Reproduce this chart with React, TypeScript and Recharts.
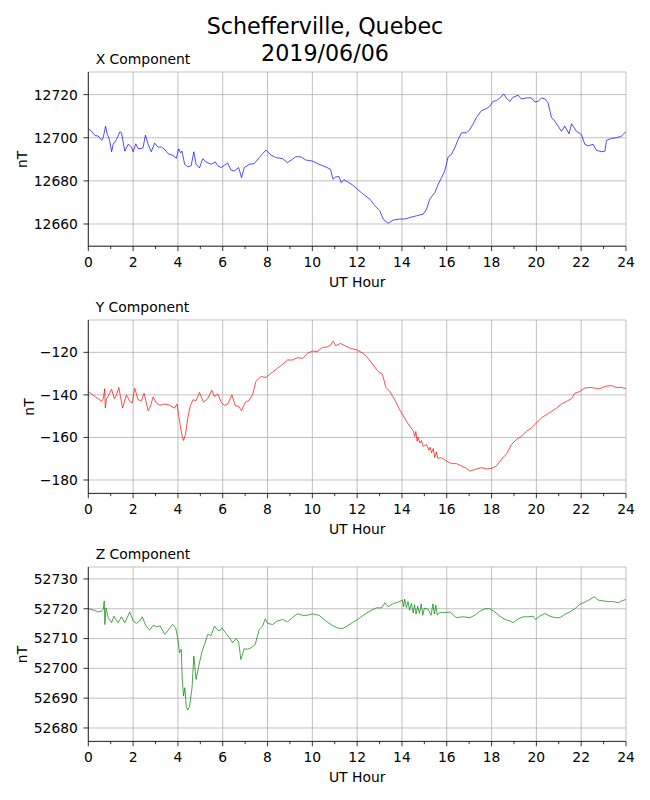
import { LineChart, Line, XAxis, YAxis, CartesianGrid } from "recharts";

// [UT hour, nT]
const xReadings: [number, number][] = [
  [0, 12704.3], [0.15, 12703], [0.3, 12701], [0.44, 12700.8], [0.6, 12698.8], [0.67, 12700.3],
  [0.77, 12705.4], [0.85, 12701.5], [0.94, 12699.2], [1.04, 12693.5], [1.11, 12697], [1.26, 12699.2],
  [1.41, 12702.8], [1.48, 12702.3], [1.63, 12693.8], [1.78, 12697], [1.93, 12695.7], [2.0, 12693.5],
  [2.12, 12697.2], [2.22, 12695], [2.37, 12695], [2.44, 12695.3], [2.55, 12701.2], [2.67, 12697],
  [2.81, 12693.5], [2.96, 12697.5], [3.11, 12695.7], [3.26, 12695.7], [3.41, 12694.6], [3.56, 12692.6],
  [3.78, 12691.8], [3.93, 12690.5], [4.03, 12694.9], [4.12, 12693], [4.18, 12693.8], [4.3, 12687.7],
  [4.44, 12686.5], [4.59, 12687], [4.71, 12693.5], [4.81, 12687.7], [4.96, 12686], [5.11, 12690.3],
  [5.26, 12688.8], [5.48, 12687.7], [5.67, 12688.8], [5.78, 12687], [5.93, 12686.2], [6.07, 12687.2],
  [6.22, 12688.3], [6.37, 12685], [6.52, 12684.6], [6.71, 12686.2], [6.84, 12681.5], [6.96, 12686.2],
  [7.19, 12687.7], [7.41, 12688], [7.63, 12690.8], [7.78, 12692.6], [7.93, 12694.3], [8.15, 12692],
  [8.37, 12690.8], [8.67, 12690.3], [8.89, 12688.5], [9.11, 12690], [9.26, 12691.2], [9.48, 12691.2],
  [9.7, 12689.7], [10.0, 12689.2], [10.3, 12687.7], [10.59, 12686.5], [10.81, 12685.4], [10.92, 12680.8],
  [11.04, 12681.8], [11.19, 12682], [11.29, 12679.2], [11.41, 12680.5], [11.63, 12679.2], [11.85, 12677.7],
  [12.0, 12676.2], [12.27, 12673.8], [12.57, 12671.5], [12.79, 12668.5], [13.01, 12666.2], [13.16, 12662.3],
  [13.38, 12660.3], [13.61, 12661.8], [13.9, 12662.3], [14.13, 12662.3], [14.35, 12663], [14.65, 12663.8],
  [14.95, 12664.6], [15.1, 12666.9], [15.24, 12671.5], [15.47, 12674.6], [15.62, 12678.5], [15.77, 12681.5],
  [15.91, 12684.6], [16.06, 12691.1], [16.21, 12692.3], [16.36, 12695.4], [16.51, 12699.2], [16.66, 12702.3],
  [16.88, 12702.3], [17.03, 12703.8], [17.18, 12706.5], [17.33, 12709.5], [17.55, 12712.6], [17.77, 12713.5],
  [17.92, 12714.6], [18.07, 12716.9], [18.22, 12717.2], [18.37, 12718.5], [18.55, 12720.3], [18.67, 12718.2],
  [18.82, 12716.9], [18.96, 12718.8], [19.19, 12719.7], [19.33, 12718], [19.56, 12718.5], [19.78, 12718.5],
  [19.93, 12716.6], [20.08, 12716.9], [20.23, 12718.5], [20.38, 12718], [20.52, 12716.2], [20.67, 12709.5],
  [20.82, 12707.7], [20.97, 12705.4], [21.12, 12703], [21.27, 12705.4], [21.46, 12701.8], [21.57, 12706.5],
  [21.79, 12703], [22.01, 12701.5], [22.16, 12697], [22.31, 12696.2], [22.53, 12697], [22.68, 12694.2],
  [22.9, 12693.5], [23.06, 12693.8], [23.13, 12698.8], [23.35, 12699.7], [23.58, 12700], [23.8, 12700.8],
  [24.0, 12702.8],
];

const yReadings: [number, number][] = [
  [0, -138.4], [0.22, -140.2], [0.44, -141.8], [0.59, -143], [0.67, -141.8], [0.73, -137.1],
  [0.76, -146.2], [0.81, -141.8], [0.89, -140.7], [1.04, -137.3], [1.16, -141.8], [1.26, -140],
  [1.36, -136.5], [1.53, -146.2], [1.7, -140], [1.85, -143], [1.96, -143.8], [2.07, -136.8],
  [2.22, -142.3], [2.37, -142.7], [2.49, -139.2], [2.67, -147.4], [2.77, -145.4], [2.89, -141],
  [3.04, -143.8], [3.19, -144.9], [3.41, -144.3], [3.63, -144.9], [3.85, -146.2], [3.96, -144.3],
  [4.03, -149.3], [4.12, -155.5], [4.19, -159.4], [4.25, -161.4], [4.34, -158.6], [4.44, -150.8],
  [4.55, -145.4], [4.67, -142.3], [4.81, -142.7], [4.96, -138.8], [5.14, -143.4], [5.33, -141.8],
  [5.51, -137.8], [5.63, -140.7], [5.78, -139.6], [5.93, -143.4], [6.07, -144.9], [6.22, -144.3],
  [6.41, -140], [6.56, -145.1], [6.71, -145.4], [6.84, -147.4], [6.99, -143.8], [7.19, -142.3],
  [7.33, -140], [7.48, -133.7], [7.7, -131.4], [7.93, -131.8], [8.07, -130.6], [8.22, -129.3],
  [8.44, -127.5], [8.67, -125.6], [8.89, -123.6], [9.11, -123.6], [9.33, -122.5], [9.56, -122.8],
  [9.78, -120.5], [10.0, -119.4], [10.22, -119.7], [10.44, -117.8], [10.67, -117.4], [10.81, -116.6],
  [10.93, -114.7], [11.04, -116.9], [11.26, -115.8], [11.48, -117], [11.7, -118.1], [12.0, -118.9],
  [12.27, -120.5], [12.49, -122.8], [12.71, -125.9], [12.94, -129], [13.13, -130.3], [13.28, -136.5],
  [13.46, -138.4], [13.68, -142.3], [13.9, -147], [14.05, -149.6], [14.2, -152.4], [14.35, -154.7],
  [14.5, -156.8], [14.57, -159.5], [14.62, -157.2], [14.68, -161.8], [14.72, -159.8], [14.8, -162.6],
  [14.87, -161.5], [14.95, -164.2], [15.1, -163.4], [15.2, -166], [15.26, -164.6], [15.32, -167.2],
  [15.4, -165.2], [15.46, -169.4], [15.54, -166.8], [15.6, -169.8], [15.76, -169.5], [15.99, -171.1],
  [16.21, -172.3], [16.43, -172.3], [16.66, -173.4], [16.88, -174.5],
  [17.03, -175.8], [17.25, -175.1], [17.55, -174.2], [17.77, -174.8], [18.0, -174.5], [18.22, -173.4],
  [18.44, -170.3], [18.67, -167.7], [18.89, -163.3], [19.11, -161], [19.34, -159.4], [19.56, -157.1],
  [19.78, -155.5], [20.0, -153.2], [20.23, -150.8], [20.45, -149.3], [20.68, -147.7], [20.9, -146.2],
  [21.12, -144.3], [21.35, -143], [21.57, -141.8], [21.72, -139.2], [21.94, -138.4], [22.16, -136.8],
  [22.39, -136.5], [22.61, -136.8], [22.83, -137.1], [23.06, -136], [23.35, -135.6], [23.58, -136.5],
  [23.8, -136.5], [24.0, -137.1],
];

const zReadings: [number, number][] = [
  [0, 52720], [0.22, 52719.6], [0.44, 52718.9], [0.59, 52719.2], [0.67, 52719.8], [0.71, 52722.6],
  [0.74, 52714.7], [0.79, 52720.3], [0.89, 52717], [1.04, 52715.3], [1.14, 52717.5], [1.33, 52715.3],
  [1.48, 52717.3], [1.63, 52715.3], [1.85, 52718.9], [2.0, 52715.9], [2.15, 52715.1], [2.3, 52715.9],
  [2.41, 52717.3], [2.56, 52714.4], [2.74, 52712.8], [2.89, 52714.4], [3.04, 52714], [3.21, 52714.2],
  [3.41, 52711.4], [3.56, 52712.8], [3.75, 52714.7], [3.9, 52713.6], [4.0, 52709.7], [4.07, 52705.2],
  [4.15, 52706.4], [4.19, 52696.8], [4.25, 52690.7], [4.31, 52693.5], [4.37, 52687.3], [4.44, 52686],
  [4.52, 52687.3], [4.63, 52693.5], [4.71, 52704.1], [4.81, 52696.3], [4.93, 52700.8], [5.08, 52705.8],
  [5.19, 52708], [5.33, 52711.4], [5.48, 52711], [5.63, 52714.2], [5.74, 52713.1], [5.85, 52712.5],
  [5.96, 52713.6], [6.15, 52711.7], [6.3, 52710.3], [6.44, 52708.6], [6.59, 52710], [6.71, 52708.8],
  [6.81, 52703], [6.96, 52706.6], [7.11, 52706.4], [7.26, 52706.9], [7.45, 52708], [7.63, 52713.1],
  [7.78, 52714.2], [7.9, 52716.6], [8.0, 52715.1], [8.22, 52714.7], [8.44, 52715.9], [8.67, 52716.4],
  [8.89, 52715.6], [9.11, 52717], [9.33, 52718.3], [9.56, 52717.8], [9.78, 52717.8], [10.0, 52718.3],
  [10.3, 52717.8], [10.6, 52715.9], [10.89, 52714.4], [11.11, 52713.6], [11.33, 52713.3], [11.56, 52714.2],
  [11.78, 52715.3], [12.0, 52716.3], [12.27, 52717.8], [12.57, 52719.2], [12.86, 52720.3], [13.09, 52720.3],
  [13.24, 52722], [13.38, 52720.7], [13.61, 52721.7], [13.83, 52722.2], [14.02, 52722.9], [14.07, 52720.6],
  [14.12, 52723.2], [14.2, 52720.4], [14.27, 52722.4], [14.34, 52719.5], [14.42, 52721.8], [14.5, 52718.6],
  [14.56, 52721.4], [14.63, 52718.2], [14.7, 52720.9], [14.78, 52718.4], [14.86, 52721.6], [14.93, 52717.8],
  [15.0, 52720.2], [15.17, 52719.8], [15.3, 52717.8], [15.38, 52721.6], [15.45, 52718.2], [15.51, 52721.2],
  [15.58, 52717.9], [15.69, 52718.7], [15.91, 52718.7], [16.14, 52718.9], [16.43, 52717],
  [16.73, 52717.3], [17.03, 52717], [17.25, 52717.8], [17.48, 52719.2], [17.7, 52720], [17.92, 52720],
  [18.15, 52718.9], [18.37, 52717.5], [18.6, 52716.4], [18.82, 52715.9], [18.96, 52715.3], [19.19, 52716.6],
  [19.41, 52717.3], [19.63, 52717.3], [19.85, 52717.5], [19.96, 52716.4], [20.15, 52717.5], [20.38, 52718.4],
  [20.61, 52717.5], [20.83, 52717], [21.05, 52717], [21.27, 52718.1], [21.49, 52718.9], [21.72, 52720],
  [21.94, 52721.5], [22.16, 52722.2], [22.39, 52723.1], [22.58, 52724], [22.76, 52722.9], [22.99, 52722.6],
  [23.21, 52722.4], [23.44, 52722.4], [23.66, 52722], [23.8, 52722.6], [24.0, 52723.1],
];

const hourTicks = Array.from({ length: 25 }, (_, i) => i);
const hourGrid = [0, 2, 4, 6, 8, 10, 12, 14, 16, 18, 20, 22, 24];
const xTicks = [12660, 12680, 12700, 12720];
const yTicks = [-180, -160, -140, -120];
const zTicks = [52680, 52690, 52700, 52710, 52720, 52730];

const FONT = "'DejaVu Sans', sans-serif";
const LEFT = 88.3;
const RIGHT = 24;
const TOP_PAD = 10;
const XAXIS_H = 40;

const panels = [
  { title: "X Component", rows: xReadings, ticks: xTicks, domain: [12649.7, 12730.5], color: "#0000ff", top: 72.3, height: 174.2, labelX: 21.7 },
  { title: "Y Component", rows: yReadings, ticks: yTicks, domain: [-186.3, -104.8], color: "#ff0000", top: 320.3, height: 173.4, labelX: 28.5 },
  { title: "Z Component", rows: zReadings, ticks: zTicks, domain: [52675.5, 52734], color: "#008000", top: 567.3, height: 174.4, labelX: 21.7 },
];

function HourTick(props: any) {
  const { x, y, payload } = props;
  const major = payload.value % 2 === 0;
  return (
    <g>
      <line x1={x} x2={x} y1={y} y2={y + (major ? 4.9 : 2.8)} stroke="#000" strokeWidth={0.8} />
      {major && (
        <text x={x} y={y + 20.8} textAnchor="middle" fontSize={13.9} fill="#000" fontFamily={FONT}>
          {payload.value}
        </text>
      )}
    </g>
  );
}

function Panel({ p }: { p: (typeof panels)[number] }) {
  const data = p.rows.map(([h, v]) => ({ h, v }));
  return (
    <div style={{ position: "absolute", left: 0, top: p.top - TOP_PAD }}>
      <LineChart
        width={650}
        height={p.height + TOP_PAD + XAXIS_H}
        data={data}
        margin={{ top: TOP_PAD, right: RIGHT, bottom: 0, left: 0 }}
      >
        <CartesianGrid stroke="#b0b0b0" strokeWidth={0.8} verticalValues={hourGrid} />
        <XAxis
          dataKey="h"
          type="number"
          domain={[0, 24]}
          ticks={hourTicks}
          interval={0}
          allowDataOverflow
          height={XAXIS_H}
          tickSize={0}
          tickMargin={0}
          tick={<HourTick />}
          axisLine={{ stroke: "#000", strokeWidth: 0.8 }}
        />
        <XAxis
          xAxisId="top"
          orientation="top"
          type="number"
          domain={[0, 24]}
          height={0}
          tick={false}
          tickLine={false}
          axisLine={{ stroke: "#000", strokeWidth: 0.8 }}
        />
        <YAxis
          type="number"
          domain={p.domain}
          ticks={p.ticks}
          interval={0}
          allowDataOverflow
          width={LEFT}
          tickSize={4.9}
          tickMargin={5.5}
          tick={{ fontSize: 13.9, fill: "#000", fontFamily: FONT }}
          tickFormatter={(v: number) => String(v).replace("-", "\u2212")}
          tickLine={{ stroke: "#000", strokeWidth: 0.8 }}
          axisLine={{ stroke: "#000", strokeWidth: 0.8 }}
        />
        <YAxis
          yAxisId="right"
          orientation="right"
          type="number"
          domain={p.domain}
          width={0}
          tick={false}
          tickLine={false}
          axisLine={{ stroke: "#000", strokeWidth: 0.8 }}
        />
        <Line
          dataKey="v"
          type="linear"
          stroke={p.color}
          strokeWidth={0.7}
          dot={false}
          isAnimationActive={false}
        />
      </LineChart>
    </div>
  );
}

export default function App() {
  const plotMid = (LEFT + 650 - RIGHT) / 2;
  return (
    <div style={{ position: "absolute", left: 0, top: 0, width: 650, height: 800, background: "#fff", fontFamily: FONT }}>
      {panels.map((p) => (
        <Panel key={p.title} p={p} />
      ))}
      <svg width={650} height={800} style={{ position: "absolute", left: 0, top: 0, pointerEvents: "none" }}>
        <text x={325} y={34.3} textAnchor="middle" fontSize={22.2} fontFamily={FONT} fill="#000">
          Schefferville, Quebec
        </text>
        <text x={325} y={61} textAnchor="middle" fontSize={22.2} fontFamily={FONT} fill="#000">
          2019/06/06
        </text>
        {panels.map((p) => {
          const mid = p.top + p.height / 2;
          return (
            <g key={p.title}>
              <text x={95.7} y={p.top - 8.3} fontSize={13.9} fontFamily={FONT} fill="#000">
                {p.title}
              </text>
              <text x={plotMid} y={p.top + p.height + 40.5} textAnchor="middle" fontSize={13.9} fontFamily={FONT} fill="#000">
                UT Hour
              </text>
              <text
                x={p.labelX}
                y={mid}
                textAnchor="middle"
                dominantBaseline="central"
                fontSize={13.9}
                fontFamily={FONT}
                fill="#000"
                transform={`rotate(-90 ${p.labelX} ${mid})`}
              >
                nT
              </text>
            </g>
          );
        })}
      </svg>
    </div>
  );
}
